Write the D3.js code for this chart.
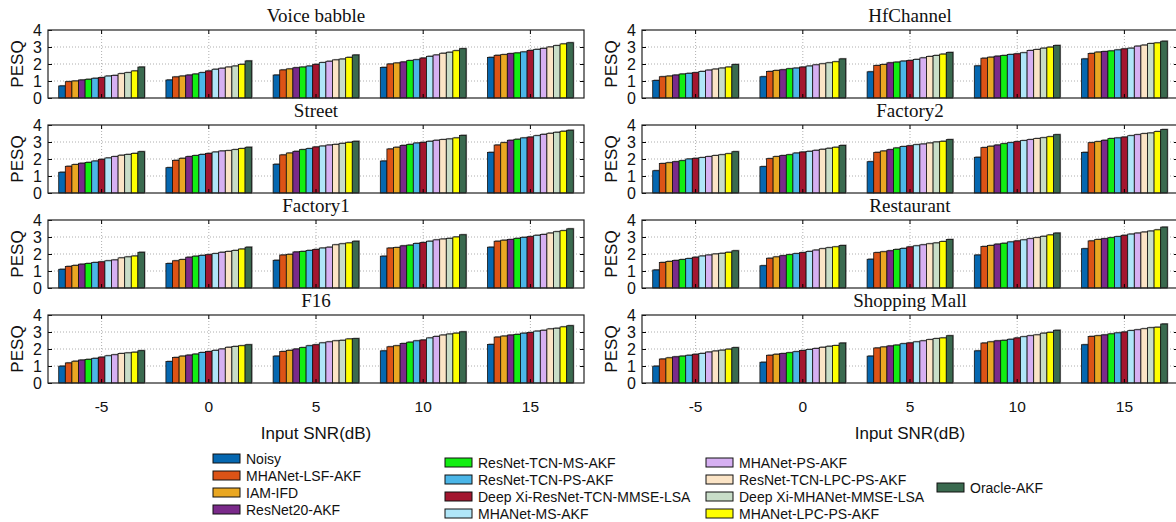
<!DOCTYPE html>
<html>
<head>
<meta charset="utf-8">
<script src="https://cdn.jsdelivr.net/npm/d3@7"></script>
<style>
  body { margin: 0; background: #fff; }
  svg { display: block; }
  .tick text { font-family: "Liberation Sans", Arial, sans-serif; }
</style>
</head>
<body>
<div id="chart"></div>
<script>
// input SNR groups and the compared methods
var snrLabels = ["-5", "0", "5", "10", "15"];
var methods = ["Noisy", "MHANet-LSF-AKF", "IAM-IFD", "ResNet20-AKF", "ResNet-TCN-MS-AKF",
  "ResNet-TCN-PS-AKF", "Deep Xi-ResNet-TCN-MMSE-LSA", "MHANet-MS-AKF", "MHANet-PS-AKF",
  "ResNet-TCN-LPC-PS-AKF", "Deep Xi-MHANet-MMSE-LSA", "MHANet-LPC-PS-AKF", "Oracle-AKF"];
var methodColors = ["#0567b0", "#dc5316", "#e9a722", "#7a2a8a", "#12ee12", "#4bb6e8", "#a3162f",
  "#b0e6f8", "#d6b0f2", "#fbe4c6", "#c8ddc8", "#ffff00", "#3a6a4f"];

// PESQ values, one row per SNR, one value per method
var voiceBabble = [
  [0.71, 0.96, 1.00, 1.06, 1.10, 1.16, 1.20, 1.29, 1.33, 1.43, 1.49, 1.59, 1.82],
  [1.06, 1.24, 1.29, 1.35, 1.41, 1.49, 1.59, 1.69, 1.75, 1.82, 1.88, 1.98, 2.18],
  [1.35, 1.65, 1.71, 1.78, 1.82, 1.88, 1.98, 2.08, 2.16, 2.24, 2.29, 2.39, 2.53],
  [1.80, 2.00, 2.06, 2.12, 2.20, 2.25, 2.35, 2.45, 2.53, 2.63, 2.69, 2.78, 2.90],
  [2.39, 2.51, 2.55, 2.61, 2.65, 2.71, 2.80, 2.86, 2.92, 3.00, 3.08, 3.18, 3.25]
];
var hfChannel = [
  [1.03, 1.25, 1.29, 1.35, 1.41, 1.45, 1.49, 1.56, 1.64, 1.70, 1.76, 1.82, 1.97],
  [1.25, 1.56, 1.62, 1.66, 1.72, 1.76, 1.82, 1.88, 1.95, 2.01, 2.07, 2.13, 2.30],
  [1.54, 1.91, 1.97, 2.07, 2.11, 2.17, 2.21, 2.27, 2.36, 2.44, 2.50, 2.58, 2.68],
  [1.89, 2.34, 2.40, 2.46, 2.50, 2.56, 2.60, 2.66, 2.79, 2.85, 2.93, 2.99, 3.09],
  [2.30, 2.62, 2.70, 2.73, 2.77, 2.83, 2.89, 2.93, 3.05, 3.11, 3.20, 3.24, 3.34]
];
var street = [
  [1.22, 1.57, 1.67, 1.75, 1.80, 1.88, 1.98, 2.06, 2.14, 2.22, 2.27, 2.33, 2.43],
  [1.49, 1.92, 2.04, 2.14, 2.20, 2.27, 2.33, 2.41, 2.47, 2.49, 2.55, 2.61, 2.69],
  [1.69, 2.24, 2.35, 2.45, 2.55, 2.61, 2.71, 2.76, 2.82, 2.86, 2.92, 2.98, 3.04],
  [1.88, 2.59, 2.69, 2.80, 2.86, 2.94, 2.98, 3.04, 3.10, 3.14, 3.18, 3.24, 3.39],
  [2.39, 2.82, 2.96, 3.10, 3.16, 3.24, 3.29, 3.37, 3.45, 3.51, 3.57, 3.63, 3.69]
];
var factory2 = [
  [1.31, 1.73, 1.78, 1.84, 1.90, 2.00, 2.04, 2.08, 2.14, 2.20, 2.25, 2.31, 2.43],
  [1.55, 2.02, 2.14, 2.20, 2.25, 2.35, 2.41, 2.45, 2.51, 2.57, 2.63, 2.69, 2.80],
  [1.84, 2.39, 2.47, 2.55, 2.65, 2.73, 2.78, 2.84, 2.88, 2.94, 3.00, 3.04, 3.14],
  [2.10, 2.67, 2.75, 2.82, 2.90, 2.96, 3.02, 3.08, 3.14, 3.20, 3.25, 3.31, 3.43],
  [2.39, 2.96, 3.02, 3.10, 3.20, 3.24, 3.29, 3.37, 3.43, 3.49, 3.53, 3.61, 3.73]
];
var factory1 = [
  [1.10, 1.27, 1.33, 1.40, 1.44, 1.50, 1.54, 1.60, 1.65, 1.77, 1.83, 1.88, 2.10],
  [1.44, 1.60, 1.67, 1.81, 1.87, 1.92, 1.96, 2.02, 2.10, 2.15, 2.21, 2.29, 2.40],
  [1.63, 1.94, 1.98, 2.12, 2.15, 2.21, 2.27, 2.35, 2.40, 2.54, 2.60, 2.65, 2.75],
  [1.87, 2.35, 2.38, 2.48, 2.52, 2.62, 2.67, 2.75, 2.83, 2.88, 2.92, 3.00, 3.13],
  [2.40, 2.75, 2.81, 2.85, 2.92, 2.98, 3.02, 3.10, 3.15, 3.23, 3.31, 3.37, 3.48]
];
var restaurant = [
  [1.06, 1.50, 1.56, 1.62, 1.67, 1.73, 1.81, 1.88, 1.94, 2.00, 2.04, 2.10, 2.19],
  [1.31, 1.75, 1.83, 1.90, 1.96, 2.02, 2.08, 2.15, 2.23, 2.31, 2.37, 2.42, 2.50],
  [1.69, 2.08, 2.13, 2.19, 2.27, 2.33, 2.42, 2.48, 2.54, 2.60, 2.65, 2.73, 2.85],
  [1.94, 2.44, 2.50, 2.58, 2.63, 2.71, 2.77, 2.83, 2.90, 2.96, 3.04, 3.12, 3.23],
  [2.31, 2.77, 2.85, 2.90, 2.96, 3.02, 3.10, 3.17, 3.23, 3.29, 3.35, 3.42, 3.58]
];
var f16 = [
  [0.99, 1.18, 1.28, 1.35, 1.39, 1.45, 1.52, 1.60, 1.66, 1.73, 1.77, 1.81, 1.90],
  [1.26, 1.50, 1.58, 1.64, 1.70, 1.79, 1.85, 1.92, 2.00, 2.10, 2.15, 2.19, 2.25],
  [1.58, 1.85, 1.92, 2.00, 2.08, 2.19, 2.25, 2.36, 2.42, 2.48, 2.51, 2.59, 2.61],
  [1.89, 2.13, 2.19, 2.32, 2.40, 2.48, 2.53, 2.65, 2.74, 2.82, 2.88, 2.93, 3.01],
  [2.27, 2.70, 2.76, 2.82, 2.86, 2.93, 2.97, 3.05, 3.10, 3.18, 3.22, 3.30, 3.37]
];
var shoppingMall = [
  [0.99, 1.41, 1.48, 1.54, 1.58, 1.63, 1.69, 1.74, 1.82, 1.88, 1.93, 1.99, 2.08],
  [1.22, 1.63, 1.69, 1.73, 1.78, 1.84, 1.91, 1.97, 2.03, 2.10, 2.16, 2.20, 2.35],
  [1.58, 2.06, 2.12, 2.18, 2.23, 2.31, 2.36, 2.42, 2.48, 2.55, 2.61, 2.65, 2.78],
  [1.89, 2.35, 2.42, 2.48, 2.51, 2.57, 2.65, 2.72, 2.78, 2.83, 2.93, 2.98, 3.10],
  [2.25, 2.74, 2.78, 2.83, 2.89, 2.95, 3.00, 3.08, 3.13, 3.19, 3.25, 3.28, 3.47]
];

var panels = [
  { title: "Voice babble", data: voiceBabble, col: 0, row: 0 },
  { title: "Street", data: street, col: 0, row: 1 },
  { title: "Factory1", data: factory1, col: 0, row: 2 },
  { title: "F16", data: f16, col: 0, row: 3 },
  { title: "HfChannel", data: hfChannel, col: 1, row: 0 },
  { title: "Factory2", data: factory2, col: 1, row: 1 },
  { title: "Restaurant", data: restaurant, col: 1, row: 2 },
  { title: "Shopping Mall", data: shoppingMall, col: 1, row: 3 }
];

var svgWidth = 1176;
var svgHeight = 522;
var sans = "'Liberation Sans', Arial, sans-serif";
var serif = "'Liberation Serif', 'Times New Roman', serif";

var svg = d3.select("#chart")
  .append("svg")
  .attr("width", svgWidth)
  .attr("height", svgHeight);

// panel geometry
var colX = [48, 642];
var plotW = 536;
var plotH = 68;
var rowTop = 30;
var rowStep = 95;

// scales shared by every panel
var x0 = d3.scaleBand()
  .domain(snrLabels)
  .range([0, plotW])
  .paddingInner(0.2)
  .paddingOuter(0.1);

var x1 = d3.scaleBand()
  .domain(d3.range(methods.length))
  .range([0, x0.bandwidth()]);

var y = d3.scaleLinear()
  .domain([0, 4])
  .range([plotH, 0]);

var color = d3.scaleOrdinal()
  .domain(d3.range(methods.length))
  .range(methodColors);

panels.forEach(function(p) {
  var g = svg.append("g")
    .attr("transform", `translate(${colX[p.col]}, ${rowTop + p.row * rowStep})`);

  // dotted grid
  g.append("g")
    .selectAll("line")
    .data([1, 2, 3])
    .enter()
    .append("line")
    .attr("x1", 0)
    .attr("x2", plotW)
    .attr("y1", d => y(d))
    .attr("y2", d => y(d))
    .attr("stroke", "#9a9a9a")
    .attr("stroke-width", 0.8)
    .attr("stroke-dasharray", "1,2");

  g.append("g")
    .selectAll("line")
    .data(snrLabels)
    .enter()
    .append("line")
    .attr("x1", d => x0(d) + x0.bandwidth() / 2)
    .attr("x2", d => x0(d) + x0.bandwidth() / 2)
    .attr("y1", 0)
    .attr("y2", plotH)
    .attr("stroke", "#9a9a9a")
    .attr("stroke-width", 0.8)
    .attr("stroke-dasharray", "1,2");

  // bar groups
  var groups = g.selectAll(".grp")
    .data(p.data)
    .enter()
    .append("g")
    .attr("class", "grp")
    .attr("transform", (d, i) => `translate(${x0(snrLabels[i])}, 0)`);

  // gray shadow behind each bar
  groups.selectAll(".shadow")
    .data(d => d)
    .enter()
    .append("rect")
    .attr("class", "shadow")
    .attr("x", (d, i) => x1(i) + 1)
    .attr("y", d => y(d) - 1)
    .attr("width", x1.bandwidth())
    .attr("height", d => plotH - y(d))
    .attr("fill", "#8c8c8c");

  groups.selectAll(".bar")
    .data(d => d)
    .enter()
    .append("rect")
    .attr("class", "bar")
    .attr("x", (d, i) => x1(i))
    .attr("y", d => y(d))
    .attr("width", x1.bandwidth())
    .attr("height", d => plotH - y(d))
    .attr("fill", (d, i) => color(i))
    .attr("stroke", "#111")
    .attr("stroke-width", 0.8);

  // axes, ticks pointing inward
  var bottomAxis = d3.axisBottom(x0).tickSize(-4).tickPadding(18);
  if (p.row !== 3) bottomAxis.tickFormat("");
  var ax = g.append("g")
    .attr("transform", `translate(0, ${plotH})`)
    .call(bottomAxis);
  ax.selectAll("text").attr("font-size", 15.5).attr("font-family", sans).attr("fill", "#111");

  g.append("g").call(d3.axisTop(x0).tickSize(-4).tickFormat(""));

  var ay = g.append("g")
    .call(d3.axisLeft(y).tickValues([0, 1, 2, 3, 4]).tickSize(-4).tickPadding(6).tickFormat(d3.format("d")));
  ay.selectAll("text").attr("font-size", 16).attr("font-family", sans).attr("fill", "#111");

  g.append("g")
    .attr("transform", `translate(${plotW}, 0)`)
    .call(d3.axisRight(y).tickValues([1, 2, 3]).tickSize(-4).tickFormat(""));

  g.selectAll(".domain").remove();

  // frame
  g.append("rect")
    .attr("x", 0)
    .attr("y", 0)
    .attr("width", plotW)
    .attr("height", plotH)
    .attr("fill", "none")
    .attr("stroke", "#222")
    .attr("stroke-width", 1.2);

  // title
  g.append("text")
    .attr("x", plotW / 2)
    .attr("y", -8)
    .attr("text-anchor", "middle")
    .attr("font-family", serif)
    .attr("font-size", 19)
    .attr("fill", "#111")
    .text(p.title);

  // y label
  g.append("text")
    .attr("transform", `translate(${-25}, ${plotH / 2}) rotate(-90)`)
    .attr("text-anchor", "middle")
    .attr("font-family", sans)
    .attr("font-size", 17)
    .attr("fill", "#111")
    .text("PESQ");

  if (p.row === 3) {
    g.append("text")
      .attr("x", plotW / 2)
      .attr("y", plotH + 56)
      .attr("text-anchor", "middle")
      .attr("font-family", sans)
      .attr("font-size", 17)
      .attr("fill", "#111")
      .text("Input SNR(dB)");
  }
});

// legend, four columns
var legendCols = [
  { x: 213, y: 459, items: [0, 1, 2, 3] },
  { x: 445, y: 463, items: [4, 5, 6, 7] },
  { x: 706, y: 463, items: [8, 9, 10, 11] },
  { x: 937, y: 488, items: [12] }
];

legendCols.forEach(function(c) {
  var lg = svg.append("g").attr("transform", `translate(${c.x}, ${c.y})`);
  var items = lg.selectAll("g")
    .data(c.items)
    .enter()
    .append("g")
    .attr("transform", (d, i) => `translate(0, ${i * 17})`);

  items.append("rect")
    .attr("x", 0)
    .attr("y", -5)
    .attr("width", 27)
    .attr("height", 9)
    .attr("fill", d => color(d))
    .attr("stroke", "#111")
    .attr("stroke-width", 1);

  items.append("text")
    .attr("x", 33)
    .attr("y", 0)
    .attr("dy", "0.35em")
    .attr("font-family", sans)
    .attr("font-size", 14)
    .attr("fill", "#111")
    .text(d => methods[d]);
});
</script>
</body>
</html>
